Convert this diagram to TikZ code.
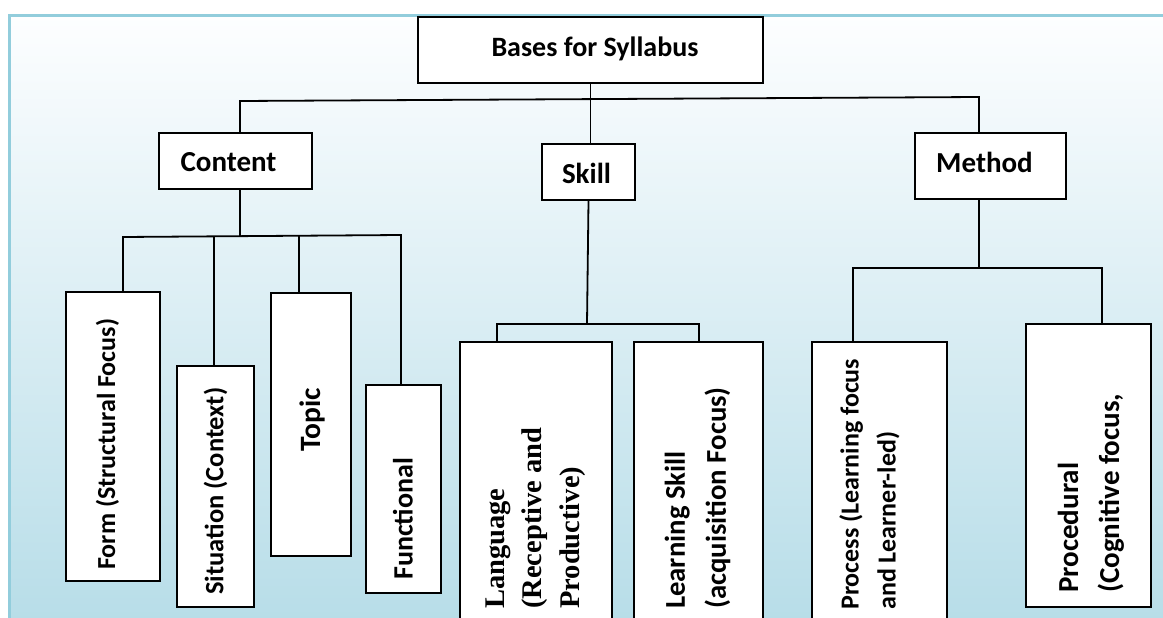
\documentclass[tikz,border=0pt]{standalone}
\usepackage{fontspec}
\setmainfont{Carlito}
\newfontfamily\serifbold{Liberation Serif}
\usetikzlibrary{calc}

\definecolor{framecol}{RGB}{146,205,220}
\definecolor{shadetop}{RGB}{253,254,255}
\definecolor{shadebot}{RGB}{183,221,232}

\begin{document}
\begin{tikzpicture}[x=1pt,y=-1pt,
  box/.style={draw=black, line width=1.8pt, fill=white, rectangle, inner sep=0pt},
  link/.style={draw=black, line width=1.8pt},
  hlabel/.style={inner sep=0pt, anchor=center},
  vlabel/.style={inner sep=0pt, rotate=90, anchor=west, align=left}]
\useasboundingbox (0,0) rectangle (1163,618);
\clip (0,0) rectangle (1163,618);
% page background and framed gradient panel
\fill[white] (0,0) rectangle (1163,618);
\shade[top color=shadetop, bottom color=shadebot] (9.5,16) rectangle (1170,625);
\draw[framecol, line width=3pt] (9.5,630) -- (9.5,16) -- (1170,16);

% boxes
\node[box, minimum width=345pt, minimum height=66pt] (root) at (590.5,50) {};
\node[box, minimum width=153pt, minimum height=56pt] (content) at (235.5,161) {};
\node[box, minimum width=93pt,  minimum height=56pt] (skill) at (588.5,172) {};
\node[box, minimum width=151pt, minimum height=66pt] (method) at (990.5,166) {};

\node[box, minimum width=94pt,  minimum height=289pt] (form) at (113,436.5) {};
\node[box, minimum width=77pt,  minimum height=241pt] (situation) at (215.5,486.5) {};
\node[box, minimum width=80pt,  minimum height=263pt] (topic) at (311,424.5) {};
\node[box, minimum width=75pt,  minimum height=208pt] (functional) at (403.5,489) {};
\node[box, minimum width=152pt, minimum height=290pt] (language) at (536,487) {};
\node[box, minimum width=129pt, minimum height=290pt] (learning) at (698.5,487) {};
\node[box, minimum width=135pt, minimum height=290pt] (process) at (879.5,487) {};
\node[box, minimum width=125pt, minimum height=283pt] (procedural) at (1088.5,465.5) {};

% connector joints
\coordinate (barL) at (240,101);
\coordinate (barR) at (979,97);
\coordinate (cb1) at (123,237);
\coordinate (cb2) at (214,237);
\coordinate (cb3) at (299,236);
\coordinate (cb4) at (401,235);
\coordinate (sb) at (587,324);
\coordinate (sb1) at (497,324);
\coordinate (sb2) at (699,324);
\coordinate (mb1) at (853,268);
\coordinate (mb2) at (1102,268);

% top level
\draw[link] (root.south) -- (root.south |- skill.north);
\draw[link] (barL |- content.north) -- (barL) -- (barR) -- (barR |- method.north);
% content branch
\draw[link] (barL |- content.south) -- (barL |- cb1);
\draw[link] (cb1 |- form.north) -- (cb1) -- (cb4) -- (cb4 |- functional.north);
\draw[link] (cb2) -- (cb2 |- situation.north);
\draw[link] (cb3) -- (cb3 |- topic.north);
% skill branch
\draw[link] (skill.south) -- (sb);
\draw[link] (sb1 |- language.north) -- (sb1) -- (sb2) -- (sb2 |- learning.north);
% method branch
\draw[link] (barR |- method.south) -- (barR |- mb1);
\draw[link] (mb1 |- process.north) -- (mb1) -- (mb2) -- (mb2 |- procedural.north);

% labels
\node[hlabel, font=\fontsize{28}{34}\selectfont\bfseries] (t-root) at (595,48.5) {Bases for Syllabus};
\node[hlabel, font=\fontsize{29}{35}\selectfont\bfseries] (t-content) at (228.5,162.5) {Content};
\node[hlabel, font=\fontsize{29}{35}\selectfont\bfseries] (t-skill) at (586.5,173) {Skill};
\node[hlabel, font=\fontsize{29}{35}\selectfont\bfseries] (t-method) at (984.5,162.5) {Method};

\node[vlabel, font=\fontsize{26}{36}\selectfont\bfseries] (t-form) at (107.5,570) {Form (Structural Focus)};
\node[vlabel, font=\fontsize{26.5}{36}\selectfont\bfseries] (t-situation) at (215.5,595) {Situation (Context)};
\node[hlabel, rotate=90, font=\fontsize{29.5}{36}\selectfont\bfseries] (t-topic) at (312,420) {Topic};
\node[vlabel, font=\fontsize{28}{36}\selectfont\bfseries] (t-functional) at (403,580) {Functional};
\node[vlabel, font=\fontsize{28.5}{37.5}\selectfont\serifbold\bfseries] (t-language) at (535.5,609) {Language\\(Receptive and\\Productive)};
\node[vlabel, font=\fontsize{28.7}{41}\selectfont\bfseries] (t-learning) at (697.5,609) {Learning Skill\\(acquisition Focus)};
\node[vlabel, font=\fontsize{26}{37}\selectfont\bfseries] (t-process) at (869.5,610) {Process (Learning focus\\and Learner-led)};
\node[vlabel, font=\fontsize{29}{41}\selectfont\bfseries] (t-procedural) at (1091,593) {Procedural\\(Cognitive focus,};
\end{tikzpicture}
\end{document}
